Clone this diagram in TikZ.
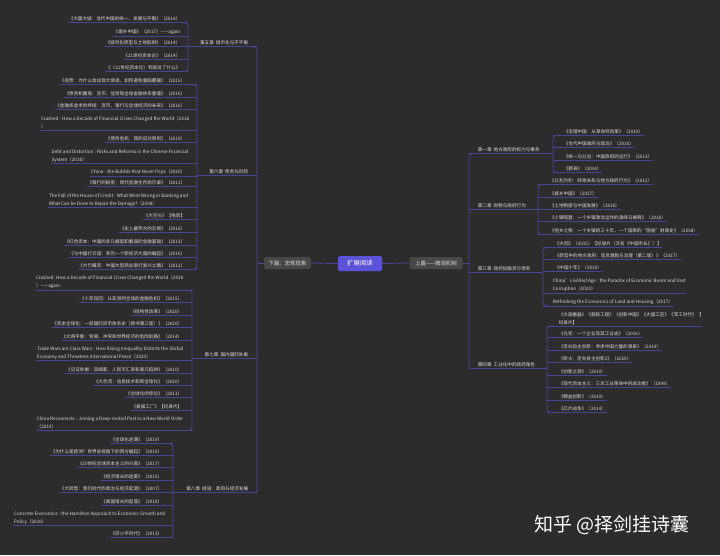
\documentclass[tikz,border=0pt]{standalone}
\usepackage{fontspec}
\setmainfont{Noto Sans CJK SC}
\usetikzlibrary{calc}
\definecolor{bg}{RGB}{44,44,44}
\definecolor{lnc}{RGB}{74,68,152}
\definecolor{txc}{RGB}{222,222,222}
\definecolor{boxc}{RGB}{72,72,72}
\definecolor{rootc}{RGB}{92,82,216}
\tikzset{
  leaf/.style={font=\fontsize{4.6}{8}\selectfont, text=txc, inner xsep=0.6pt, inner ysep=1.2pt, align=left},
  chap/.style={font=\fontsize{4.6}{8}\selectfont, text=txc, inner xsep=0.6pt, inner ysep=1.4pt},
  ln/.style={draw=lnc, line width=0.9pt},
  ul/.style={draw=lnc, line width=0.8pt},
  midbox/.style={fill=boxc, rounded corners=1.5pt, text=txc, font=\fontsize{5.4}{6}\selectfont, minimum height=12pt, inner xsep=3pt},
}
\newcommand\LI[4]{\node[leaf,anchor=east] (#1) at (#2,#3) {#4};}
\newcommand\RI[4]{\node[leaf,anchor=west] (#1) at (#2,#3) {#4};}
\begin{document}
\begin{tikzpicture}[x=1pt,y=-1pt]
\fill[bg] (0,0) rectangle (720,555);
\useasboundingbox (0,0) rectangle (720,555);

% ---------- centre ----------
\node[fill=rootc, rounded corners=1.5pt, text=white, font=\fontsize{6.4}{7}\selectfont, minimum width=44pt, minimum height=15pt] (root) at (360,263.5) {扩展阅读};
\node[midbox, minimum width=47pt] (xia) at (287.5,263) {下篇：宏观现象};
\node[midbox, minimum width=53pt] (shang) at (436,263) {上篇——微观机制};
\coordinate (M) at (257,0);
\coordinate (R) at (469,0);
\draw[ln] (root.west) -- (xia.east);
\draw[ln] (root.east) -- (shang.west);
\draw[ln] (xia.west) -- (xia.west -| M);
\draw[ln] (shang.east) -- (shang.east -| R);

% ---------- chapter labels ----------
\node[chap,anchor=east] (L5) at (249,43) {第五章\ \ 城市化与不平衡};
\node[chap,anchor=east] (L6) at (249,172) {第六章\ \ 债务与风险};
\node[chap,anchor=east] (L7) at (249,355) {第七章\ \ 国内国际失衡};
\node[chap,anchor=east] (L8) at (249,489) {第八章\ \ 结语：政府与经济发展};
\node[chap,anchor=west] (L1) at (477,150) {第一章\ \ 地方政府的权力与事务};
\node[chap,anchor=west] (L2) at (477,206) {第二章\ \ 财税与政府行为};
\node[chap,anchor=west] (L3) at (477,269) {第三章\ \ 政府投融资与债务};
\node[chap,anchor=west] (L4) at (477,365) {第四章\ \ 工业化中的政府角色};

\coordinate (b5) at (188,0);
\coordinate (b6) at (197,0);
\coordinate (b7) at (192,0);
\coordinate (b8) at (173,0);
\coordinate (b1) at (553,0);
\coordinate (b2) at (538,0);
\coordinate (b3) at (543,0);
\coordinate (b4) at (547,0);

% main verticals
\draw[ln, rounded corners=3pt] ($(L5.south -| M)+(-6,0)$) -- (L5.south -| M) -- (L8.south -| M) -- ($(L8.south -| M)+(-6,0)$);
\draw[ln, rounded corners=3pt] ($(L1.south -| R)+(6,0)$) -- (L1.south -| R) -- (L4.south -| R) -- ($(L4.south -| R)+(6,0)$);
\draw[ln] (L5.south -| b5) -- (L5.south -| M);
\draw[ln] (L6.south -| b6) -- (L6.south -| M);
\draw[ln] (L7.south -| b7) -- (L7.south -| M);
\draw[ln] (L8.south -| b8) -- (L8.south -| M);
\draw[ln] (L1.south -| R) -- (L1.south -| b1);
\draw[ln] (L2.south -| R) -- (L2.south -| b2);
\draw[ln] (L3.south -| R) -- (L3.south -| b3);
\draw[ln] (L4.south -| R) -- (L4.south -| b4);

% ---------- chapter 5 ----------
\LI{c5a}{181}{19}{《大国大城：当代中国的统一、发展与平衡》（2016）}
\LI{c5b}{181}{32}{《城乡中国》（2017）——again}
\LI{c5c}{181}{43}{《城市化转型与土地陷阱》（2014）}
\LI{c5d}{181}{56}{《21世纪资本论》（2014）}
\LI{c5e}{181}{68}{《〈21世纪资本论〉到底说了什么》}
\foreach \n in {c5a,c5b,c5c,c5d,c5e} \draw[ul] (\n.south west) -- (\n.south west -| b5);
\draw[ln, rounded corners=3pt] ($(c5a.south west -| b5)+(-6,0)$) -- (c5a.south west -| b5) -- (c5e.south west -| b5) -- ($(c5e.south west -| b5)+(-6,0)$);

% ---------- chapter 6 ----------
\LI{c6a}{186}{81}{《房债：为什么会出现大衰退，如何避免重蹈覆辙》（2015）}
\LI{c6b}{186}{94}{《债务和魔鬼：货币、信贷和全球金融体系重建》（2016）}
\LI{c6c}{186}{106}{《金融炼金术的终结：货币、银行与全球经济的未来》（2016）}
\LI{c6d}{190}{123}{Crashed : How a Decade of Financial Crises Changed the World（2018\\）}
\LI{c6e}{186}{139}{《债务危机：我的应对原则》（2019）}
\LI{c6f}{189}{156}{Debt and Distortion : Risks and Reforms in the Chinese Financial\\System（2016）}
\LI{c6g}{186}{172}{China : the Bubble that Never Pops（2020）}
\LI{c6h}{186}{183}{《银行的秘密：现代金融生存启示录》（2011）}
\LI{c6i}{189}{200}{The Fall of the House of Credit : What Went Wrong in Banking and\\What Can be Done to Repair the Damage?（2008）}
\LI{c6j}{186}{216}{《大空头》【电影】}
\LI{c6k}{186}{229}{《史上最伟大的交易》（2016）}
\LI{c6l}{186}{242}{《红色资本：中国的非凡崛起和脆弱的金融基础》（2013）}
\LI{c6m}{186}{254}{《与中国打交道：亲历一个新经济大国的崛起》（2016）}
\LI{c6n}{186}{266}{《大行蝶变：中国大型商业银行复兴之路》（2012）}
\foreach \n in {c6a,c6b,c6c,c6d,c6e,c6f,c6g,c6h,c6i,c6j,c6k,c6l,c6m,c6n} \draw[ul] (\n.south west) -- (\n.south west -| b6);
\draw[ln, rounded corners=3pt] ($(c6a.south west -| b6)+(-6,0)$) -- (c6a.south west -| b6) -- (c6n.south west -| b6) -- ($(c6n.south west -| b6)+(-6,0)$);

% ---------- chapter 7 ----------
\LI{c7a}{184}{282}{Crashed: How a Decade of Financial Crises Changed the World（2018\\）——again}
\LI{c7b}{183}{299}{《十年轮回：从亚洲到全球的金融危机》（2015）}
\LI{c7c}{183}{312}{《结构性改革》（2020）}
\LI{c7d}{183}{324}{《资本全球化：一部国际货币体系史（原书第三版）》（2020）}
\LI{c7e}{183}{337}{《大再平衡：贸易、冲突和世界经济的危险前路》（2014）}
\LI{c7f}{184}{353}{Trade Wars are Class Wars : How Rising Inequality Distorts the Global\\Economy and Threatens International Peace（2020）}
\LI{c7g}{183}{370}{《见证失衡：双顺差、人民币汇率和美元陷阱》（2010）}
\LI{c7h}{183}{382}{《大合流：信息技术和新全球化》（2020）}
\LI{c7i}{183}{394}{《全球化的悖论》（2011）}
\LI{c7j}{183}{407}{《美国工厂》【纪录片】}
\LI{c7k}{184}{423}{China Reconnects : Joining a Deep-rooted Past to a New World Order\\（2019）}
\foreach \n in {c7a,c7b,c7c,c7d,c7e,c7f,c7g,c7h,c7i,c7j,c7k} \draw[ul] (\n.south west) -- (\n.south west -| b7);
\draw[ln, rounded corners=3pt] ($(c7a.south west -| b7)+(-6,0)$) -- (c7a.south west -| b7) -- (c7k.south west -| b7) -- ($(c7k.south west -| b7)+(-6,0)$);

% ---------- chapter 8 ----------
\LI{c8a}{163}{440}{《全球化逆潮》（2019）}
\LI{c8b}{163}{452}{《为什么是欧洲？世界史视角下的西方崛起》（2010）}
\LI{c8c}{163}{464}{《20世纪全球资本主义的兴衰》（2017）}
\LI{c8d}{163}{477}{《经济增长的迷雾》（2016）}
\LI{c8e}{163}{489}{《大转型：我们时代的政治与经济起源》（2007）}
\LI{c8f}{163}{502}{《美国增长的起落》（2018）}
\LI{c8g}{166}{518}{Concrete Economics : the Hamilton Approach to Economic Growth and\\Policy（2016）}
\LI{c8h}{163}{534}{《邓小平时代》（2013）}
\foreach \n in {c8a,c8b,c8c,c8d,c8e,c8f,c8g,c8h} \draw[ul] (\n.south west) -- (\n.south west -| b8);
\draw[ln, rounded corners=3pt] ($(c8a.south west -| b8)+(-6,0)$) -- (c8a.south west -| b8) -- (c8h.south west -| b8) -- ($(c8h.south west -| b8)+(-6,0)$);

% ---------- chapter 1 ----------
\RI{r1a}{563}{132}{《治理中国：从革命到改革》（2010）}
\RI{r1b}{563}{144}{《当代中国政府与政治》（2016）}
\RI{r1c}{563}{157}{《统一与分治：中国政府的运行》（2013）}
\RI{r1d}{563}{169}{《郡县》（2014）}
\foreach \n in {r1a,r1b,r1c,r1d} \draw[ul] (\n.south east) -- (\n.south east -| b1);
\draw[ln, rounded corners=3pt] ($(r1a.south east -| b1)+(6,0)$) -- (r1a.south east -| b1) -- (r1d.south east -| b1) -- ($(r1d.south east -| b1)+(6,0)$);

% ---------- chapter 2 ----------
\RI{r2a}{549}{181}{《以利为利：财政关系与地方政府行为》（2012）}
\RI{r2b}{549}{194}{《城乡中国》（2017）}
\RI{r2c}{549}{206}{《土地制度与中国发展》（2018）}
\RI{r2d}{549}{218}{《小镇喧嚣：一个乡镇政治运作的演绎与阐释》（2018）}
\RI{r2e}{549}{231}{《他乡之税：一个乡镇的三十年，一个国家的“隐秘”财政史》（2008）}
\foreach \n in {r2a,r2b,r2c,r2d,r2e} \draw[ul] (\n.south east) -- (\n.south east -| b2);
\draw[ln, rounded corners=3pt] ($(r2a.south east -| b2)+(6,0)$) -- (r2a.south east -| b2) -- (r2e.south east -| b2) -- ($(r2e.south east -| b2)+(6,0)$);

% ---------- chapter 3 ----------
\RI{r3a}{554}{244}{《大同》（2015）【纪录片（又名《中国市长》）】}
\RI{r3b}{554}{256}{《转型中的地方政府：官员激励与治理（第二版）》（2017）}
\RI{r3c}{554}{268}{《中国十年》（2010）}
\RI{r3d}{552}{285.5}{China's Gilded Age : the Paradox of Economic Boom and Vast\\Corruption（2020）}
\RI{r3e}{552}{302}{Rethinking the Economics of Land and Housing（2017）}
\foreach \n in {r3a,r3b,r3c,r3d,r3e} \draw[ul] (\n.south east) -- (\n.south east -| b3);
\draw[ln, rounded corners=3pt] ($(r3a.south east -| b3)+(6,0)$) -- (r3a.south east -| b3) -- (r3e.south east -| b3) -- ($(r3e.south east -| b3)+(6,0)$);

% ---------- chapter 4 ----------
\RI{r4a}{558}{318.5}{《大国重器》《超级工程》《创新中国》《大国工匠》《军工时代》【\\纪录片】}
\RI{r4b}{558}{334}{《光变：一个企业及其工业史》（2016）}
\RI{r4c}{558}{347}{《走向自主创新：寻求中国力量的源泉》（2019）}
\RI{r4d}{558}{359}{《新火：走向自主创新2》（2020）}
\RI{r4e}{558}{372}{《创新之源》（2019）}
\RI{r4f}{558}{384}{《现代资本主义：三次工业革命中的成功者》（1999）}
\RI{r4g}{558}{397}{《精益创新》（2019）}
\RI{r4h}{558}{409}{《芯片战争》（2014）}
\foreach \n in {r4a,r4b,r4c,r4d,r4e,r4f,r4g,r4h} \draw[ul] (\n.south east) -- (\n.south east -| b4);
\draw[ln, rounded corners=3pt] ($(r4a.south east -| b4)+(6,0)$) -- (r4a.south east -| b4) -- (r4h.south east -| b4) -- ($(r4h.south east -| b4)+(6,0)$);

% ---------- watermark ----------
\node[text=white, font=\fontsize{19}{22}\selectfont, inner sep=0pt] (wm) at (612,525) {知乎 @择剑挂诗囊};
\end{tikzpicture}
\end{document}
